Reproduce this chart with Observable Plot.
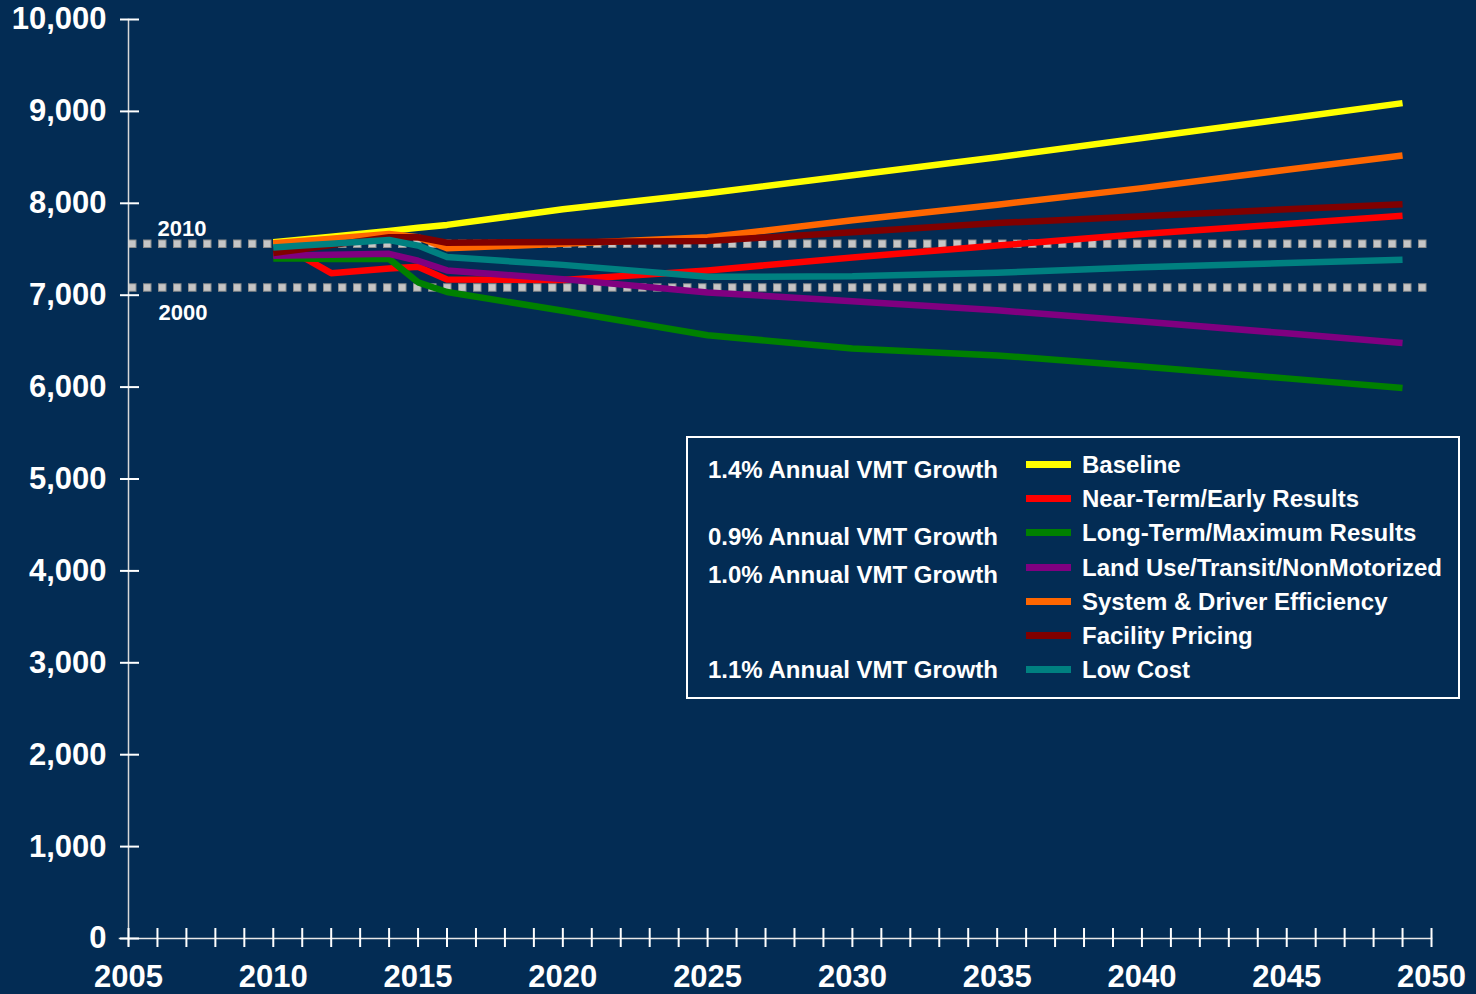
<!DOCTYPE html>
<html>
<head>
<meta charset="utf-8">
<script src="https://cdn.jsdelivr.net/npm/d3@7"></script>
<script src="https://cdn.jsdelivr.net/npm/@observablehq/plot@0.6"></script>
<style>
  html, body { margin: 0; padding: 0; background: #032c54; }
  #chart { position: relative; width: 1476px; height: 994px; font-family: "Liberation Sans", Arial, sans-serif; font-weight: bold; color: #fff; }
  #chart svg { position: absolute; left: 0; top: 0; }
  .legend { position: absolute; left: 686px; top: 436px; width: 774px; height: 263px; box-sizing: border-box; border: 2px solid #fff; }
  .legend span { position: absolute; white-space: nowrap; font-size: 24px; line-height: 24px; }
  .legend i { position: absolute; width: 45px; height: 7px; }
</style>
</head>
<body>
<div id="chart"></div>
<script>
// Annual VMT (millions) by scenario
const years = [2010, 2011, 2012, 2014, 2015, 2016, 2020, 2025, 2030, 2035, 2040, 2045, 2049];
const baseline  = [7575, 7605, 7635, 7700, 7735, 7765, 7935, 8110, 8305, 8500, 8710, 8920, 9090];
const nearTerm  = [7440, 7420, 7240, 7290, 7310, 7170, 7165, 7270, 7410, 7540, 7665, 7775, 7865];
const longTerm  = [7400, 7400, 7395, 7395, 7140, 7035, 6830, 6565, 6420, 6345, 6225, 6095, 5990];
const landUse   = [7430, 7435, 7440, 7450, 7375, 7270, 7175, 7030, 6935, 6835, 6715, 6585, 6480];
const systemEff = [7565, 7590, 7615, 7665, 7630, 7510, 7560, 7630, 7815, 7985, 8165, 8365, 8520];
const facility  = [7460, 7500, 7545, 7630, 7630, 7570, 7580, 7590, 7685, 7785, 7860, 7935, 7990];
const lowCost   = [7520, 7540, 7560, 7600, 7540, 7415, 7330, 7200, 7205, 7245, 7305, 7350, 7385];

const seriesNames = ["Baseline", "Near-Term/Early Results", "Long-Term/Maximum Results",
  "Land Use/Transit/NonMotorized", "System & Driver Efficiency", "Facility Pricing", "Low Cost"];
const seriesValues = [baseline, nearTerm, longTerm, landUse, systemEff, facility, lowCost];
const seriesColors = ["#ffff00", "#ff0000", "#008000", "#800080", "#ff6600", "#800000", "#008080"];
const growthLabels = ["1.4% Annual VMT Growth", "", "0.9% Annual VMT Growth", "1.0% Annual VMT Growth", "", "", "1.1% Annual VMT Growth"];

// Historical reference levels
const refLabels = ["2010", "2000"];
const refValues = [7560, 7085];

// Axis ticks
const yTicks = [0, 1000, 2000, 3000, 4000, 5000, 6000, 7000, 8000, 9000, 10000];
const xLabelYears = [2005, 2010, 2015, 2020, 2025, 2030, 2035, 2040, 2045, 2050];
const xTickYears = d3.range(2005, 2051);

const rows = [];
seriesValues.forEach((vals, i) => vals.forEach((v, j) => rows.push({series: seriesNames[i], year: years[j], value: v})));
const refs = refLabels.map((label, i) => ({label, value: refValues[i]}));

const plot = Plot.plot({
  width: 1476,
  height: 994,
  marginLeft: 128,
  marginRight: 45,
  marginTop: 19,
  marginBottom: 56,
  style: {background: "transparent", color: "#fff", fontFamily: "'Liberation Sans', Arial, sans-serif", fontWeight: "bold", overflow: "visible"},
  x: {domain: [2005, 2050], axis: null},
  y: {domain: [0, 10000], axis: null},
  color: {domain: seriesNames, range: seriesColors},
  marks: [
    // dotted reference levels: grey squares with a darker rim
    Plot.ruleY(refs, {y: "value", stroke: "#8c8c8c", strokeWidth: 8.5, strokeDasharray: "8.5,6.5"}),
    Plot.ruleY(refs, {y: "value", stroke: "#c6c6c6", strokeWidth: 6.5, strokeDasharray: "6.5,8.5", strokeDashoffset: -1}),
    Plot.text([refs[0]], {y: "value", text: "label", frameAnchor: "left", dx: 29, dy: -15, textAnchor: "start", fontSize: 22, fill: "#fff"}),
    Plot.text([refs[1]], {y: "value", text: "label", frameAnchor: "left", dx: 30, dy: 26, textAnchor: "start", fontSize: 22, fill: "#fff"}),
    // scenario lines
    Plot.line(rows, {x: "year", y: "value", z: "series", stroke: "series", strokeWidth: 6.5, strokeLinejoin: "round", strokeLinecap: "butt"}),
    // axis lines
    Plot.frame({anchor: "left", stroke: "#d8d8d8", strokeWidth: 1.5, insetBottom: -7}),
    Plot.frame({anchor: "bottom", stroke: "#e8e8e8", strokeWidth: 1.5, insetLeft: -9}),
    // tick marks crossing the axes
    Plot.axisY({ticks: yTicks, tickSize: 19, dx: 11, tickFormat: () => "", stroke: "#fff", strokeWidth: 2, label: null}),
    Plot.axisX({ticks: xTickYears, tickSize: 19, dy: -10, tickFormat: () => "", stroke: "#fff", strokeWidth: 2, label: null}),
    // tick labels
    Plot.axisY({ticks: yTicks, tickSize: 0, tickPadding: 22, tickFormat: d3.format(","), fontSize: 31, fill: "#fff", label: null}),
    Plot.axisX({ticks: xLabelYears, tickSize: 0, tickPadding: 26, tickFormat: d3.format("d"), fontSize: 31, fill: "#fff", label: null})
  ]
});

const chart = document.getElementById("chart");
chart.appendChild(plot);

// legend box
const legend = document.createElement("div");
legend.className = "legend";
const rowTop = 15, rowStep = 34.17;
const noteShift = [5, 0, 4, 7, 0, 0, 0];
seriesNames.forEach((name, i) => {
  const top = rowTop + i * rowStep;
  const sw = document.createElement("i");
  sw.style.left = "338px";
  sw.style.top = (top + 8) + "px";
  sw.style.background = seriesColors[i];
  legend.appendChild(sw);
  const lab = document.createElement("span");
  lab.textContent = name;
  lab.style.left = "394px";
  lab.style.top = top + "px";
  legend.appendChild(lab);
  if (growthLabels[i]) {
    const note = document.createElement("span");
    note.textContent = growthLabels[i];
    note.style.left = "20px";
    note.style.top = (top + noteShift[i]) + "px";
    legend.appendChild(note);
  }
});
chart.appendChild(legend);
</script>
</body>
</html>
